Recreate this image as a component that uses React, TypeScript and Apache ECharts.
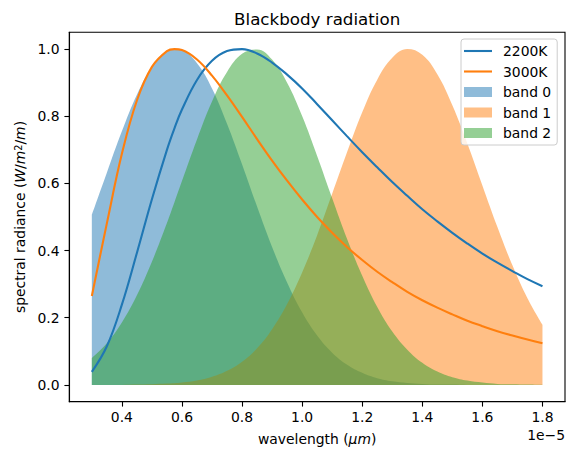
import React, { useEffect, useRef } from "react";
import * as echarts from "echarts";

// wavelength in units of 1e-5 m
const wavelengths = [
  0.3, 0.35, 0.4, 0.45, 0.5, 0.55, 0.575, 0.6, 0.65, 0.7, 0.75, 0.8, 0.85, 0.9, 0.95, 1.0, 1.05,
  1.1, 1.15, 1.2, 1.25, 1.3, 1.35, 1.4, 1.45, 1.5, 1.55, 1.6, 1.65, 1.7, 1.75, 1.8,
];

const radiance2200 = [
  0.039, 0.115, 0.239, 0.393, 0.553, 0.7, 0.764, 0.82, 0.908, 0.965, 0.994, 1.0, 0.987, 0.96,
  0.924, 0.883, 0.836, 0.788, 0.74, 0.693, 0.648, 0.604, 0.563, 0.523, 0.487, 0.453, 0.421,
  0.391, 0.364, 0.339, 0.315, 0.294,
];

const radiance3000 = [
  0.265, 0.481, 0.688, 0.847, 0.947, 0.994, 1.0, 0.997, 0.969, 0.921, 0.862, 0.798, 0.732,
  0.668, 0.608, 0.552, 0.5, 0.453, 0.41, 0.372, 0.337, 0.306, 0.277, 0.252, 0.23, 0.21, 0.191,
  0.175, 0.16, 0.147, 0.135, 0.124,
];

const band0 = [
  0.506, 0.632, 0.755, 0.864, 0.946, 0.992, 1.0, 0.997, 0.958, 0.883, 0.778, 0.657, 0.531,
  0.411, 0.305, 0.216, 0.147, 0.096, 0.06, 0.036, 0.02, 0.011, 0.006, 0.003, 0.001, 0.001, 0,
  0, 0, 0, 0, 0,
];

const band1 = [
  0, 0, 0, 0.001, 0.002, 0.004, 0.005, 0.007, 0.013, 0.024, 0.042, 0.069, 0.109, 0.166, 0.241,
  0.335, 0.446, 0.569, 0.694, 0.812, 0.909, 0.974, 1.0, 0.983, 0.925, 0.833, 0.719, 0.594,
  0.47, 0.356, 0.258, 0.179,
];

const band2 = [
  0.08, 0.124, 0.186, 0.267, 0.367, 0.482, 0.544, 0.607, 0.731, 0.844, 0.932, 0.986, 0.999,
  0.969, 0.9, 0.801, 0.682, 0.556, 0.434, 0.325, 0.232, 0.159, 0.105, 0.066, 0.04, 0.023,
  0.013, 0.007, 0.003, 0.002, 0.001, 0,
];

const xTicks = [0.4, 0.6, 0.8, 1.0, 1.2, 1.4, 1.6, 1.8];
const yTicks = [0.0, 0.2, 0.4, 0.6, 0.8, 1.0];

const lineNames = ["2200K", "3000K"];
const bandNames = ["band 0", "band 1", "band 2"];
const colors = ["#1f77b4", "#ff7f0e", "#2ca02c"];

export default function App() {
  const ref = useRef<HTMLDivElement>(null);

  useEffect(() => {
    const chart = echarts.init(ref.current!, null, { renderer: "svg" });
    const pair = (ys: number[]) => wavelengths.map((x, i) => [x, ys[i]]);
    const font = "DejaVu Sans";
    const L = 69.3;
    const R = 565;
    const T = 32.3;
    const B = 401.7;
    const fs = 13.9;

    const richBase = {
      n: { fontFamily: font, fontSize: fs, color: "#000" },
      i: { fontFamily: font, fontSize: fs, fontStyle: "italic", color: "#000" },
    };

    const lineSeries = [radiance2200, radiance3000].map((d, k) => ({
      name: lineNames[k],
      type: "line",
      data: pair(d),
      symbol: "none",
      smooth: 0.4,
      z: 5,
      itemStyle: { color: colors[k] },
      lineStyle: { color: colors[k], width: 2.1 },
    }));

    const bandSeries = [band0, band1, band2].map((d, k) => ({
      name: bandNames[k],
      type: "line",
      data: pair(d),
      symbol: "none",
      smooth: 0.4,
      z: 2,
      itemStyle: { color: colors[k] },
      lineStyle: { width: 0, opacity: 0 },
      areaStyle: { color: colors[k], opacity: 0.5, origin: 0 },
    }));

    chart.setOption({
      animation: false,
      textStyle: { fontFamily: font },
      grid: {
        left: L,
        top: T,
        width: R - L,
        height: B - T,
        show: true,
        borderColor: "#000",
        borderWidth: 1.1,
        backgroundColor: "transparent",
      },
      xAxis: {
        type: "value",
        min: 0.225,
        max: 1.875,
        axisLine: { show: true, onZero: false, lineStyle: { color: "#000", width: 1.1 } },
        axisTick: {
          show: true,
          customValues: xTicks,
          length: 4.9,
          lineStyle: { color: "#000", width: 1.1 },
        },
        axisLabel: {
          customValues: xTicks,
          formatter: (v: number) => v.toFixed(1),
          fontSize: fs,
          fontFamily: font,
          color: "#000",
          margin: 8.5,
        },
        splitLine: { show: false },
      },
      yAxis: {
        type: "value",
        min: -0.05,
        max: 1.05,
        axisLine: { show: true, onZero: false, lineStyle: { color: "#000", width: 1.1 } },
        axisTick: {
          show: true,
          customValues: yTicks,
          length: 4.9,
          lineStyle: { color: "#000", width: 1.1 },
        },
        axisLabel: {
          customValues: yTicks,
          formatter: (v: number) => v.toFixed(1),
          fontSize: fs,
          fontFamily: font,
          color: "#000",
          margin: 9.7,
        },
        splitLine: { show: false },
      },
      legend: {
        orient: "vertical",
        left: 461,
        top: 39,
        padding: [5, 6, 5, 3],
        itemWidth: 28,
        itemHeight: 10,
        itemGap: 6.5,
        symbolKeepAspect: true,
        backgroundColor: "rgba(255,255,255,0.8)",
        borderColor: "#cccccc",
        borderWidth: 1,
        borderRadius: 3,
        textStyle: {
          fontSize: fs,
          fontFamily: font,
          color: "#000",
          lineHeight: 14,
          padding: [0, 0, 0, 6],
        },
        data: [
          ...lineNames.map((n, k) => ({
            name: n,
            icon: "path://M0,0H28V2.1H0Z",
            itemStyle: { color: colors[k], borderWidth: 0 },
          })),
          ...bandNames.map((n, k) => ({
            name: n,
            icon: "rect",
            itemStyle: { color: colors[k], opacity: 0.5, borderWidth: 0 },
          })),
        ],
      },
      graphic: [
        {
          type: "text",
          x: (L + R) / 2,
          y: 19.2,
          style: {
            text: "Blackbody radiation",
            fontSize: 16.7,
            fontFamily: font,
            fill: "#000",
            textAlign: "center",
            textVerticalAlign: "middle",
          },
        },
        {
          type: "text",
          x: (L + R) / 2,
          y: 438.5,
          style: {
            text: "{n|wavelength (}{i|μm}{n|)}",
            rich: richBase,
            fontSize: fs,
            fontFamily: font,
            fill: "#000",
            textAlign: "center",
            textVerticalAlign: "middle",
          },
        },
        {
          type: "text",
          x: R,
          y: 435.2,
          style: {
            text: "1e\u22125",
            fontSize: fs,
            fontFamily: font,
            fill: "#000",
            textAlign: "right",
            textVerticalAlign: "middle",
          },
        },
        {
          type: "text",
          x: 20,
          y: (T + B) / 2,
          rotation: Math.PI / 2,
          style: {
            text: "{n|spectral radiance (}{i|W}{n|/}{i|m}{s|2}{n|/}{i|m}{n|)}",
            rich: {
              ...richBase,
              s: { fontFamily: font, fontSize: 9.7, color: "#000", verticalAlign: "top", lineHeight: 10 },
            },
            fontSize: fs,
            fontFamily: font,
            fill: "#000",
            textAlign: "center",
            textVerticalAlign: "middle",
          },
        },
      ],
      series: [...lineSeries, ...bandSeries],
    });

    return () => chart.dispose();
  }, []);

  return (
    <div
      ref={ref}
      style={{ position: "absolute", left: 0, top: 0, width: 574, height: 459 }}
    />
  );
}
